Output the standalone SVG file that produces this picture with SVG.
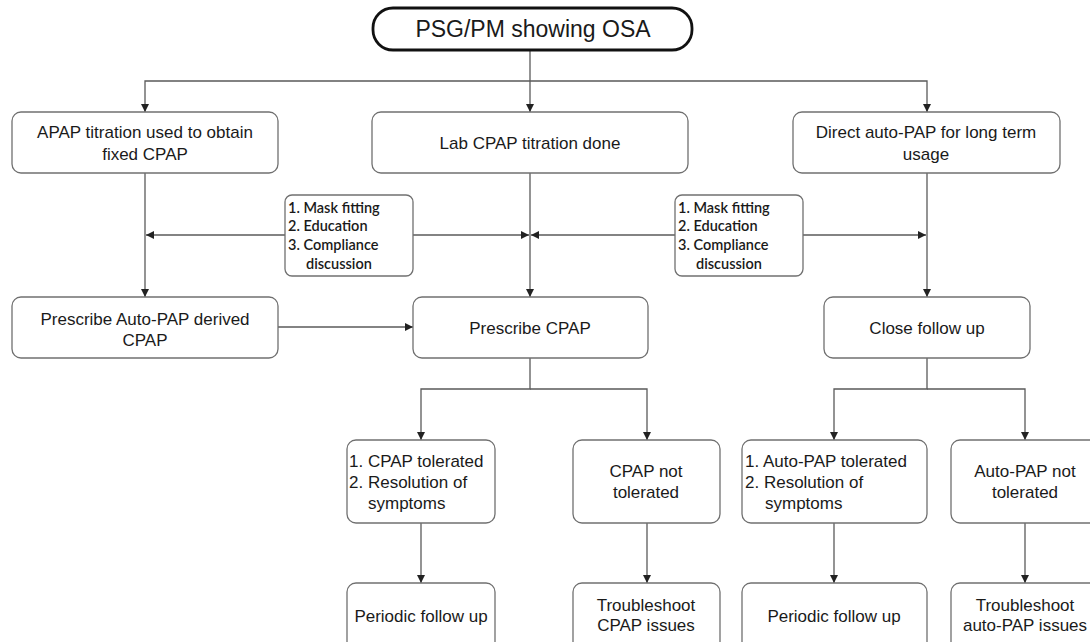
<svg xmlns="http://www.w3.org/2000/svg" width="1090" height="642" viewBox="0 0 1090 642">
<style>
.box{fill:#fff;stroke:#707070;stroke-width:1.3}
.pill{fill:#fff;stroke:#111;stroke-width:2.8}
.t{font-family:"Liberation Sans",Arial,sans-serif;font-size:17px;fill:#1a1a1a;text-anchor:middle}
.tl{font-family:"Liberation Sans",Arial,sans-serif;font-size:17px;fill:#1a1a1a}
.n{font-family:Lato,"Open Sans",sans-serif;font-size:14.5px;font-weight:600;fill:#1a1a1a}
.c{fill:none;stroke:#5a5a5a;stroke-width:1.3}
</style>
<defs>
<marker id="ah" viewBox="0 0 10 10" refX="10" refY="5" markerWidth="8" markerHeight="8" markerUnits="userSpaceOnUse" orient="auto">
<path d="M0,0 L10,5 L0,10 Z" fill="#222"/>
</marker>
</defs>
<rect width="1090" height="642" fill="#fff"/>
<g id="connectors">
<path class="c" d="M530,50 V112" marker-end="url(#ah)"/>
<path class="c" d="M530,81 H145 V112" marker-end="url(#ah)"/>
<path class="c" d="M530,81 H927 V112" marker-end="url(#ah)"/>
<path class="c" d="M145,173 V297" marker-end="url(#ah)"/>
<path class="c" d="M530,173 V297" marker-end="url(#ah)"/>
<path class="c" d="M927,173 V297" marker-end="url(#ah)"/>
<path class="c" d="M285,235 H146" marker-end="url(#ah)"/>
<path class="c" d="M413,235 H529" marker-end="url(#ah)"/>
<path class="c" d="M675,235 H531" marker-end="url(#ah)"/>
<path class="c" d="M803,235 H926" marker-end="url(#ah)"/>
<path class="c" d="M278,327 H413" marker-end="url(#ah)"/>
<path class="c" d="M530,358 V389 H421 V440" marker-end="url(#ah)"/>
<path class="c" d="M530,389 H647 V440" marker-end="url(#ah)"/>
<path class="c" d="M927,358 V389 H834 V440" marker-end="url(#ah)"/>
<path class="c" d="M927,389 H1025 V440" marker-end="url(#ah)"/>
<path class="c" d="M421,523 V583" marker-end="url(#ah)"/>
<path class="c" d="M647,523 V583" marker-end="url(#ah)"/>
<path class="c" d="M834,523 V583" marker-end="url(#ah)"/>
<path class="c" d="M1025,523 V583" marker-end="url(#ah)"/>
</g>
<g id="start">
<rect class="pill" x="373" y="8" width="319" height="42" rx="20" ry="20"/>
<text class="t" x="533" y="37" style="font-size:23px">PSG/PM showing OSA</text>
</g>
<g id="apap">
<rect class="box" x="12" y="112" width="266" height="61" rx="9"/>
<text class="t" x="145" y="138">APAP titration used to obtain</text>
<text class="t" x="145" y="160">fixed CPAP</text>
</g>
<g id="lab">
<rect class="box" x="372" y="112" width="316" height="61" rx="9"/>
<text class="t" x="530" y="149">Lab CPAP titration done</text>
</g>
<g id="direct">
<rect class="box" x="793" y="112" width="267" height="61" rx="9"/>
<text class="t" x="926" y="138">Direct auto-PAP for long term</text>
<text class="t" x="926" y="160">usage</text>
</g>
<g id="note1">
<rect class="box" x="285" y="195" width="128" height="81" rx="7"/>
<text class="n" x="288" y="213">1. Mask fitting</text>
<text class="n" x="288" y="231">2. Education</text>
<text class="n" x="288" y="250">3. Compliance</text>
<text class="n" x="306" y="269">discussion</text>
</g>
<g id="note2">
<rect class="box" x="675" y="195" width="128" height="81" rx="7"/>
<text class="n" x="678" y="213">1. Mask fitting</text>
<text class="n" x="678" y="231">2. Education</text>
<text class="n" x="678" y="250">3. Compliance</text>
<text class="n" x="696" y="269">discussion</text>
</g>
<g id="prescribe-auto">
<rect class="box" x="12" y="297" width="266" height="61" rx="9"/>
<text class="t" x="145" y="325">Prescribe Auto-PAP derived</text>
<text class="t" x="145" y="346">CPAP</text>
</g>
<g id="prescribe-cpap">
<rect class="box" x="413" y="297" width="235" height="61" rx="9"/>
<text class="t" x="530" y="334">Prescribe CPAP</text>
</g>
<g id="close">
<rect class="box" x="824" y="297" width="206" height="61" rx="9"/>
<text class="t" x="927" y="334">Close follow up</text>
</g>
<g id="cpap-tol">
<rect class="box" x="347" y="440" width="148" height="83" rx="9"/>
<text class="tl" x="349" y="467">1. CPAP tolerated</text>
<text class="tl" x="349" y="488">2. Resolution of</text>
<text class="tl" x="368" y="509">symptoms</text>
</g>
<g id="cpap-not">
<rect class="box" x="573" y="440" width="147" height="83" rx="9"/>
<text class="t" x="646" y="477">CPAP not</text>
<text class="t" x="646" y="498">tolerated</text>
</g>
<g id="auto-tol">
<rect class="box" x="742" y="440" width="185" height="83" rx="9"/>
<text class="tl" x="745" y="467">1. Auto-PAP tolerated</text>
<text class="tl" x="745" y="488">2. Resolution of</text>
<text class="tl" x="765" y="509">symptoms</text>
</g>
<g id="auto-not">
<rect class="box" x="951" y="440" width="148" height="83" rx="9"/>
<text class="t" x="1025" y="477">Auto-PAP not</text>
<text class="t" x="1025" y="498">tolerated</text>
</g>
<g id="periodic1">
<rect class="box" x="347" y="583" width="148" height="70" rx="9"/>
<text class="t" x="421" y="622">Periodic follow up</text>
</g>
<g id="trouble-cpap">
<rect class="box" x="573" y="583" width="147" height="70" rx="9"/>
<text class="t" x="646" y="611">Troubleshoot</text>
<text class="t" x="646" y="631">CPAP issues</text>
</g>
<g id="periodic2">
<rect class="box" x="742" y="583" width="185" height="70" rx="9"/>
<text class="t" x="834" y="622">Periodic follow up</text>
</g>
<g id="trouble-auto">
<rect class="box" x="951" y="583" width="148" height="70" rx="9"/>
<text class="t" x="1025" y="611">Troubleshoot</text>
<text class="t" x="1025" y="631">auto-PAP issues</text>
</g>
</svg>
